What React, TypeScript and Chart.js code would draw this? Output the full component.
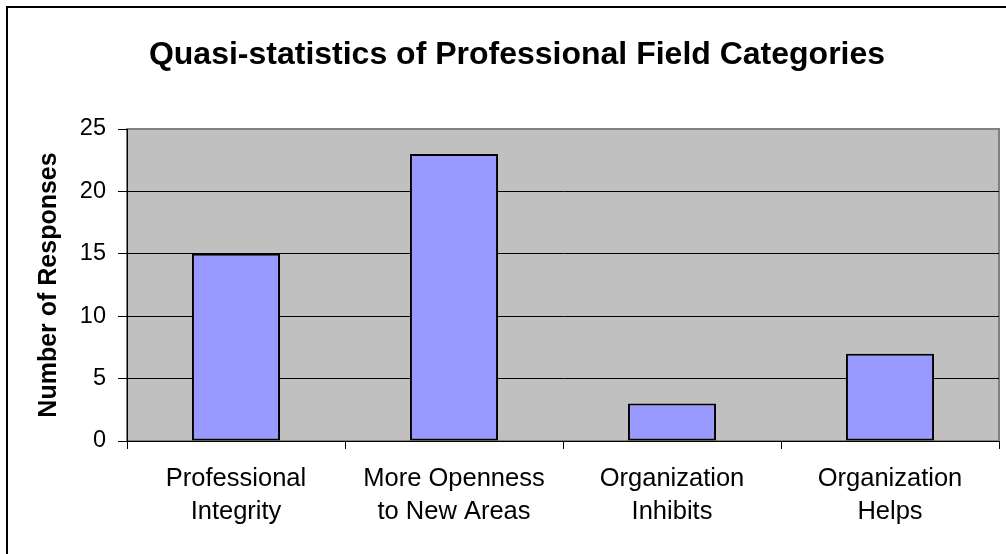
import React, { useEffect, useRef } from "react";
import { Chart, registerables } from "chart.js";

Chart.register(...registerables);

const categories: string[][] = [
  ["Professional", "Integrity"],
  ["More Openness", "to New Areas"],
  ["Organization", "Inhibits"],
  ["Organization", "Helps"],
];
const responses: number[] = [15, 23, 3, 7];
const yTicks: number[] = [0, 5, 10, 15, 20, 25];
const chartTitle = "Quasi-statistics of Professional Field Categories";
const yTitle = "Number of Responses";

const FONT = "'Liberation Sans', Arial, sans-serif";

const decorPlugin = {
  id: "decor",
  beforeDraw(chart: any) {
    const { ctx, chartArea } = chart;
    ctx.save();
    ctx.fillStyle = "#ffffff";
    ctx.fillRect(0, 0, chart.width, chart.height);
    // outer frame
    ctx.strokeStyle = "#000000";
    ctx.lineWidth = 2;
    ctx.beginPath();
    ctx.moveTo(7, chart.height + 5);
    ctx.lineTo(7, 7);
    ctx.lineTo(chart.width + 5, 7);
    ctx.stroke();
    // plot background
    ctx.fillStyle = "#C0C0C0";
    ctx.fillRect(chartArea.left, chartArea.top, chartArea.right - chartArea.left, chartArea.bottom - chartArea.top);
    ctx.strokeStyle = "#808080";
    ctx.lineWidth = 2;
    ctx.strokeRect(chartArea.left, chartArea.top, chartArea.right - chartArea.left, chartArea.bottom - chartArea.top);
    // title
    ctx.fillStyle = "#000000";
    ctx.font = `bold 32px ${FONT}`;
    ctx.textAlign = "center";
    ctx.textBaseline = "alphabetic";
    ctx.fillText(chartTitle, 517, 64);
    // y title
    ctx.translate(49, (chartArea.top + chartArea.bottom) / 2);
    ctx.rotate(-Math.PI / 2);
    ctx.font = `bold 25px ${FONT}`;
    ctx.textBaseline = "middle";
    ctx.fillText(yTitle, 0, 0);
    ctx.restore();
  },
};

export default function App() {
  const ref = useRef<HTMLCanvasElement | null>(null);
  useEffect(() => {
    if (!ref.current) return;
    const chart = new Chart(ref.current, {
      type: "bar",
      data: {
        labels: categories,
        datasets: [
          {
            data: responses,
            backgroundColor: "#9999FF",
            borderColor: "#000000",
            borderWidth: 2,
            borderSkipped: false,
            categoryPercentage: 1,
            barPercentage: 0.404,
          },
        ],
      },
      options: {
        responsive: false,
        animation: false,
        layout: { padding: { left: 0, top: 129, right: 7, bottom: 0 } },
        plugins: {
          legend: { display: false },
          title: { display: false },
          tooltip: { enabled: false },
        },
        scales: {
          x: {
            offset: true,
            grid: {
              offset: true,
              drawOnChartArea: false,
              drawTicks: true,
              tickLength: 8,
              tickColor: "#000000",
              lineWidth: 1,
            },
            border: { display: true, color: "#000000", width: 1 },
            ticks: {
              color: "#000000",
              font: { family: FONT, size: 25.5, lineHeight: 1.3 },
              padding: 13,
              maxRotation: 0,
              autoSkip: false,
            },
            afterFit(scale: any) {
              scale.height = 554 - 441;
            },
          },
          y: {
            min: 0,
            max: 25,
            afterBuildTicks(scale: any) {
              scale.ticks = yTicks.map((v) => ({ value: v }));
            },
            grid: {
              color: (c: any) => (c.tick && c.tick.value === 25 ? "#808080" : "#000000"),
              tickColor: "#000000",
              tickLength: 9,
              lineWidth: 1,
            },
            border: { display: true, color: "#000000", width: 1 },
            ticks: {
              color: "#000000",
              font: { family: FONT, size: 23.5 },
              padding: 12,
            },
            afterFit(scale: any) {
              scale.width = 127;
            },
          },
        },
      },
      plugins: [decorPlugin],
    });
    return () => chart.destroy();
  }, []);
  return (
    <div style={{ position: "fixed", left: 0, top: 0, width: 1006, height: 554, background: "#fff" }}>
      <canvas ref={ref} width={1006} height={554} style={{ width: 1006, height: 554, display: "block" }} />
    </div>
  );
}
